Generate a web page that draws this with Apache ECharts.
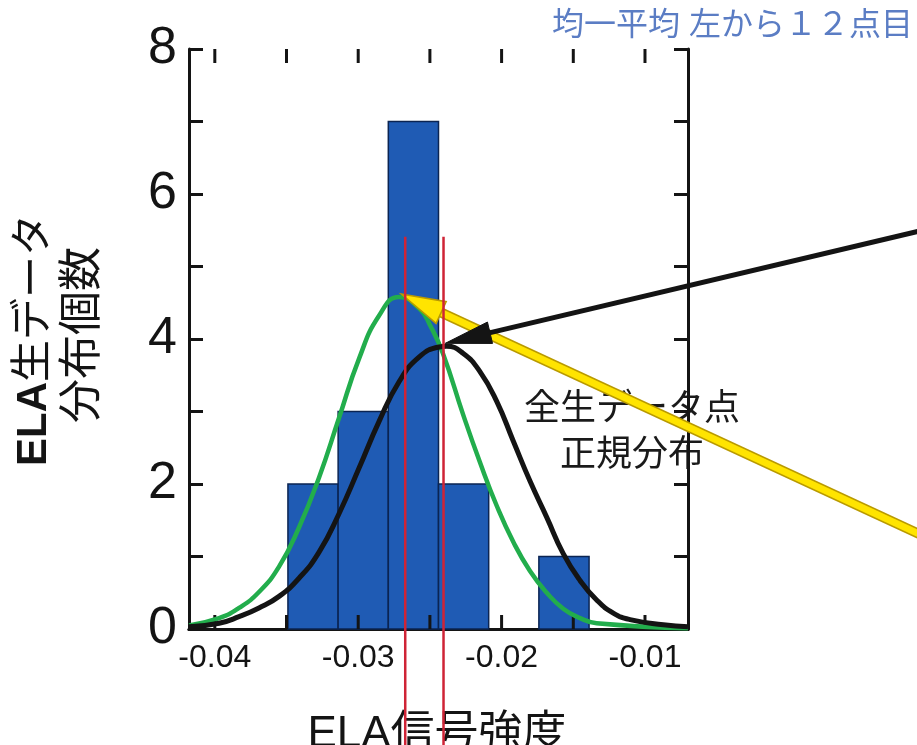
<!DOCTYPE html>
<html>
<head>
<meta charset="utf-8">
<script src="https://cdn.jsdelivr.net/npm/echarts@6/dist/echarts.min.js"></script>
<style>
html,body{margin:0;padding:0;background:#fff;}
#c{width:917px;height:745px;}
</style>
</head>
<body>
<div id="c"></div>
<script>
// ---- data ----
const xMin = -0.0418, xMax = -0.0070;
const yMin = 0, yMax = 8;
const xTickValues = [-0.04, -0.035, -0.03, -0.025, -0.02, -0.015, -0.01];
const xLabelValues = [-0.04, -0.03, -0.02, -0.01];
const yLabelValues = [0, 2, 4, 6, 8];

const binStarts = [-0.0349, -0.0314, -0.0279, -0.0244, -0.0209, -0.0174];
const binEnds   = [-0.0314, -0.0279, -0.0244, -0.0209, -0.0174, -0.0139];
const binCounts = [2, 3, 7, 2, 0, 1];

const greenX = [-0.0418, -0.0397, -0.03831, -0.03692, -0.03552, -0.03413, -0.03273, -0.03134, -0.02994, -0.02855, -0.02715, -0.02569, -0.02499, -0.02409, -0.02267, -0.02151, -0.02034, -0.01918, -0.01802, -0.01685, -0.01570, -0.01453, -0.01337, -0.0070];
const greenY = [0.05, 0.15, 0.29, 0.51, 0.86, 1.40, 2.09, 2.91, 3.73, 4.32, 4.58, 4.41, 4.19, 3.80, 2.95, 2.30, 1.70, 1.20, 0.80, 0.50, 0.28, 0.15, 0.08, 0.01];

const blackX = [-0.0418, -0.0397, -0.03831, -0.03692, -0.03552, -0.03413, -0.03273, -0.03134, -0.02994, -0.02855, -0.02715, -0.02576, -0.02436, -0.02383, -0.02267, -0.02151, -0.02034, -0.01918, -0.01802, -0.01685, -0.01570, -0.01453, -0.01337, -0.01221, -0.01104, -0.00872, -0.0070];
const blackY = [0.03, 0.08, 0.17, 0.29, 0.45, 0.70, 1.06, 1.59, 2.22, 2.86, 3.41, 3.75, 3.89, 3.90, 3.80, 3.55, 3.14, 2.59, 2.04, 1.54, 1.04, 0.67, 0.40, 0.22, 0.13, 0.06, 0.03];

const redLineX = [-0.02672, -0.02405];
const redLineTop = 5.41, redLineBottom = -1.75;

const blackArrow = [0.0100, 5.53, -0.02393, 3.94];   // tail x, tail y, tip x, tip y
const yellowArrow = [0.0100, 1.23, -0.02700, 4.62];

const yTitle1 = ['ELA', '生データ'];
const yTitle2 = '分布個数';
const xTitle = 'ELA信号強度';
const noteTop = '均一平均 左から１２点目';
const noteLines = ['全生データ点', '正規分布'];

// ---- build ----
const FF = "'Liberation Sans', Arial, 'Noto Sans CJK JP', sans-serif";
const INK = '#141414';
const chart = echarts.init(document.getElementById('c'), null, {renderer: 'canvas'});

const axisLine = {show: true, lineStyle: {color: INK, width: 3}};
const axisTickY = {show: true, inside: true, length: 14, lineStyle: {color: INK, width: 3}};

const barData = binStarts.map((s, i) => [s, binEnds[i], binCounts[i]]);
const greenData = greenX.map((x, i) => [x, greenY[i]]);
const blackData = blackX.map((x, i) => [x, blackY[i]]);
const redData = redLineX.map(x => [x, redLineTop, redLineBottom]);
const xTickData = xTickValues.map(v => [v]);

function arrowRender(color, lineW, headLen, headHalf, outline) {
  return function (params, api) {
    const tail = api.coord([api.value(0), api.value(1)]);
    const tip = api.coord([api.value(2), api.value(3)]);
    const dx = tip[0] - tail[0], dy = tip[1] - tail[1];
    const L = Math.sqrt(dx * dx + dy * dy);
    const ux = dx / L, uy = dy / L;
    const bx = tip[0] - ux * headLen, by = tip[1] - uy * headLen;
    const px = -uy, py = ux;
    const head = [[tip[0], tip[1]], [bx + px * headHalf, by + py * headHalf], [bx - px * headHalf, by - py * headHalf]];
    const children = [];
    if (outline) {
      children.push({type: 'line', shape: {x1: tail[0], y1: tail[1], x2: bx + ux * 4, y2: by + uy * 4}, style: {stroke: outline, lineWidth: lineW + 3, lineCap: 'butt'}});
    }
    children.push({type: 'line', shape: {x1: tail[0], y1: tail[1], x2: bx + ux * 4, y2: by + uy * 4}, style: {stroke: color, lineWidth: lineW, lineCap: 'butt'}});
    children.push({type: 'polygon', shape: {points: head}, style: {fill: color, stroke: outline || color, lineWidth: outline ? 1.5 : 1}});
    return {type: 'group', children: children};
  };
}

chart.setOption({
  animation: false,
  backgroundColor: '#ffffff',
  grid: {left: 189, right: 229, top: 49, bottom: 116, containLabel: false},
  xAxis: [
    {type: 'value', min: xMin, max: xMax, position: 'bottom', axisLine: axisLine, axisTick: {show: false},
     splitLine: {show: false},
     axisLabel: {customValues: xLabelValues, formatter: v => v.toFixed(2), fontSize: 32, color: INK, fontFamily: FF, margin: 13}},
    {type: 'value', min: xMin, max: xMax, position: 'top', axisLine: axisLine, axisTick: {show: false},
     splitLine: {show: false}, axisLabel: {show: false}}
  ],
  yAxis: [
    {type: 'value', min: yMin, max: yMax, interval: 1, position: 'left', axisLine: axisLine, axisTick: axisTickY,
     splitLine: {show: false},
     axisLabel: {customValues: yLabelValues, fontSize: 52, color: INK, fontFamily: FF, margin: 12}},
    {type: 'value', min: yMin, max: yMax, interval: 1, position: 'right', axisLine: axisLine, axisTick: axisTickY,
     splitLine: {show: false}, axisLabel: {show: false}}
  ],
  graphic: [
    {type: 'text', x: 34, y: 340, rotation: Math.PI / 2,
     style: {text: '{b|' + yTitle1[0] + '}{n|' + yTitle1[1] + '}', textAlign: 'center', textVerticalAlign: 'middle',
       rich: {b: {fontSize: 42, fontWeight: 'bold', fontFamily: FF, fill: INK}, n: {fontSize: 42, fontFamily: FF, fill: INK}}}},
    {type: 'text', x: 84, y: 335, rotation: Math.PI / 2,
     style: {text: yTitle2, textAlign: 'center', textVerticalAlign: 'middle', fontSize: 44, fontFamily: FF, fill: INK}},
    {type: 'text', x: 437, y: 735,
     style: {text: xTitle, textAlign: 'center', textVerticalAlign: 'middle', fontSize: 44, fontFamily: FF, fill: INK}},
    {type: 'text', x: 913, y: 26,
     style: {text: noteTop, textAlign: 'right', textVerticalAlign: 'middle', fontSize: 32, fontFamily: FF, fill: '#5b7dc4'}},
    {type: 'text', x: 632, y: 410,
     style: {text: noteLines[0], textAlign: 'center', textVerticalAlign: 'middle', fontSize: 36, fontFamily: FF, fill: '#1a1a1a'}},
    {type: 'text', x: 632, y: 456,
     style: {text: noteLines[1], textAlign: 'center', textVerticalAlign: 'middle', fontSize: 36, fontFamily: FF, fill: '#1a1a1a'}}
  ],
  series: [
    {type: 'custom', name: 'hist', data: barData, encode: {x: [0, 1], y: 2}, z: 2,
     renderItem: function (params, api) {
       const c = api.value(2);
       if (!c) return null;
       const p0 = api.coord([api.value(0), c]);
       const p1 = api.coord([api.value(1), 0]);
       return {type: 'rect', shape: {x: p0[0], y: p0[1], width: p1[0] - p0[0], height: p1[1] - p0[1]},
         style: {fill: '#1f5bb4', stroke: '#0b2452', lineWidth: 1.5}};
     }},
    {type: 'custom', name: 'xTicks', data: xTickData, encode: {x: 0}, z: 3, silent: true,
     renderItem: function (params, api) {
       const b = api.coord([api.value(0), yMin]);
       const t = api.coord([api.value(0), yMax]);
       return {type: 'group', children: [
         {type: 'line', shape: {x1: b[0], y1: b[1], x2: b[0], y2: b[1] - 14}, style: {stroke: INK, lineWidth: 3}},
         {type: 'line', shape: {x1: t[0], y1: t[1], x2: t[0], y2: t[1] + 14}, style: {stroke: INK, lineWidth: 3}}
       ]};
     }},
    {type: 'line', name: 'green', data: greenData, smooth: true, symbol: 'none', z: 4,
     lineStyle: {color: '#22ad4c', width: 4.5}},
    {type: 'line', name: 'black', data: blackData, smooth: true, symbol: 'none', z: 5,
     lineStyle: {color: INK, width: 5}},
    {type: 'custom', name: 'yellowArrow', data: [yellowArrow], encode: {x: [0, 2], y: [1, 3]}, z: 6, clip: false,
     renderItem: arrowRender('#ffe400', 7, 44, 12, '#b99a00')},
    {type: 'custom', name: 'blackArrow', data: [blackArrow], encode: {x: [0, 2], y: [1, 3]}, z: 7, clip: false,
     renderItem: arrowRender(INK, 5, 46, 11, null)},
    {type: 'custom', name: 'red', data: redData, encode: {x: 0, y: [1, 2]}, z: 8, clip: false,
     renderItem: function (params, api) {
       const a = api.coord([api.value(0), api.value(1)]);
       const b = api.coord([api.value(0), api.value(2)]);
       return {type: 'line', shape: {x1: a[0], y1: a[1], x2: b[0], y2: b[1]}, style: {stroke: '#cf2436', lineWidth: 2.5}};
     }}
  ]
});
</script>
</body>
</html>
